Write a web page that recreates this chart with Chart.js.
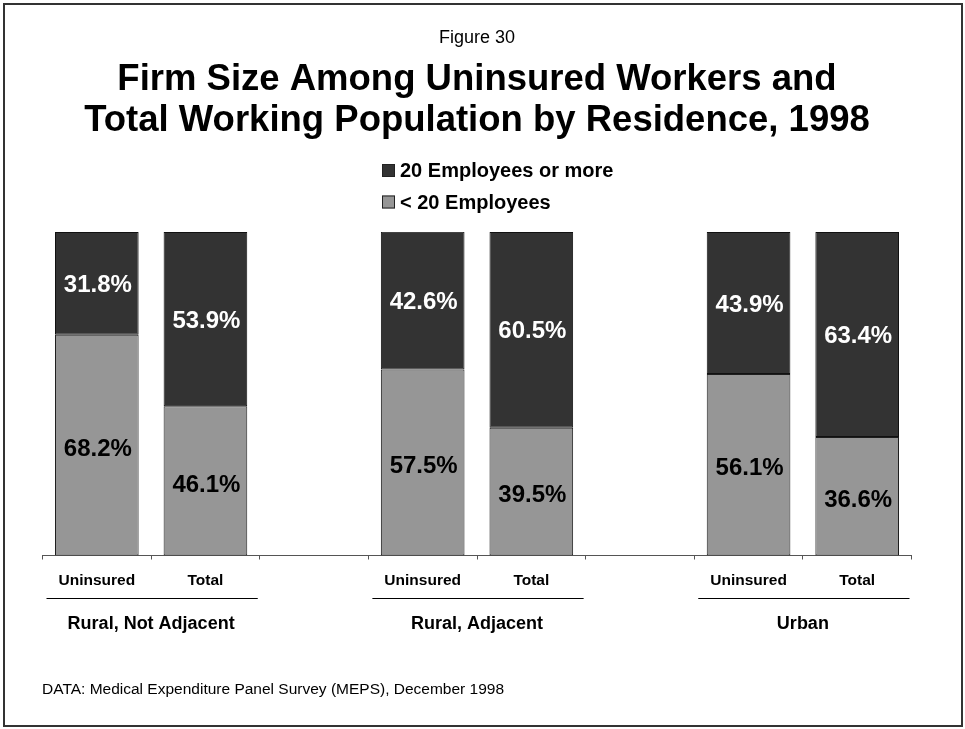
<!DOCTYPE html>
<html>
<head>
<meta charset="utf-8">
<script src="https://cdn.jsdelivr.net/npm/chart.js@4/dist/chart.umd.min.js"></script>
<style>
  html, body { margin: 0; padding: 0; background: #ffffff; }
  #wrap { width: 965px; height: 729px; position: relative; }
</style>
</head>
<body>
<div id="wrap"><canvas id="chart"></canvas></div>
<script>
// Residence groups and the two bars inside each group
const groupNames = ['Rural, Not Adjacent', 'Rural, Adjacent', 'Urban'];
// Category slots along the x axis; the blank slots separate the groups
const categories = ['Uninsured', 'Total', '', 'Uninsured', 'Total', '', 'Uninsured', 'Total'];
// Share of workers by firm size (%)
const smallFirms = [68.2, 46.1, null, 57.5, 39.5, null, 56.1, 36.6];
const largeFirms = [31.8, 53.9, null, 42.6, 60.5, null, 43.9, 63.4];
const seriesNames = ['< 20 Employees', '20 Employees or more'];
const figureLabel = 'Figure 30';
const titleLines = ['Firm Size Among Uninsured Workers and', 'Total Working Population by Residence, 1998'];
const sourceNote = 'DATA: Medical Expenditure Panel Survey (MEPS), December 1998';

const FONT = 'Arial, "Liberation Sans", Helvetica, sans-serif';
const LIGHT = '#969696';
const DARK = '#333333';

// Value labels centred in every bar segment
const segmentLabels = {
  id: 'segmentLabels',
  afterDatasetsDraw(chart) {
    const ctx = chart.ctx;
    ctx.save();
    ctx.font = 'bold 24px ' + FONT;
    ctx.textAlign = 'center';
    ctx.textBaseline = 'middle';
    chart.data.datasets.forEach((ds, di) => {
      const meta = chart.getDatasetMeta(di);
      meta.data.forEach((bar, i) => {
        const v = ds.data[i];
        if (v == null) return;
        const p = bar.getProps(['x', 'y', 'base'], true);
        ctx.fillStyle = ds.labelColor;
        ctx.fillText(v.toFixed(1) + '%', p.x + 1, (p.y + p.base) / 2 + ds.labelShift);
      });
    });
    ctx.restore();
  }
};

// Stacked legend block under the title (top series listed first)
const blockLegend = {
  id: 'blockLegend',
  afterDraw(chart) {
    const ctx = chart.ctx;
    const items = chart.data.datasets.slice().reverse();
    const x0 = 382, rows = [170.5, 202], box = 13;
    ctx.save();
    ctx.font = 'bold 20px ' + FONT;
    ctx.textAlign = 'left';
    ctx.textBaseline = 'middle';
    items.forEach((ds, k) => {
      const y = rows[k];
      ctx.fillStyle = ds.backgroundColor;
      ctx.fillRect(x0, y - box / 2, box, box);
      ctx.lineWidth = 1;
      ctx.strokeStyle = '#222222';
      ctx.strokeRect(x0 + 0.5, y - box / 2 + 0.5, box - 1, box - 1);
      ctx.fillStyle = '#000000';
      ctx.fillText(ds.label, x0 + box + 5, y + 1);
    });
    ctx.restore();
  }
};

// Group captions with rules under the pairs of bars, source note and frame
const groupCaptions = {
  id: 'groupCaptions',
  afterDraw(chart) {
    const ctx = chart.ctx;
    const xs = chart.scales.x;
    const half = (xs.getPixelForValue(1) - xs.getPixelForValue(0)) / 2;
    ctx.save();
    groupNames.forEach((name, g) => {
      const left = xs.getPixelForValue(g * 3) - half;
      const right = xs.getPixelForValue(g * 3 + 1) + half;
      ctx.strokeStyle = '#000000';
      ctx.lineWidth = 1;
      ctx.beginPath();
      ctx.moveTo(left + 4, 598.5);
      ctx.lineTo(right - 2, 598.5);
      ctx.stroke();
      ctx.fillStyle = '#000000';
      ctx.font = 'bold 18px ' + FONT;
      ctx.textAlign = 'center';
      ctx.textBaseline = 'middle';
      ctx.fillText(name, (left + right) / 2, 624);
    });
    ctx.font = '15.5px ' + FONT;
    ctx.textAlign = 'left';
    ctx.textBaseline = 'middle';
    ctx.fillText(sourceNote, 42, 690);
    ctx.strokeStyle = '#333333';
    ctx.lineWidth = 2;
    ctx.strokeRect(4, 4, 958, 722);
    ctx.restore();
  }
};

const chart = new Chart(document.getElementById('chart'), {
  type: 'bar',
  data: {
    labels: categories,
    datasets: [
      {
        label: seriesNames[0],
        data: smallFirms,
        backgroundColor: LIGHT,
        borderColor: '#1e1e1e',
        borderWidth: 1,
        borderSkipped: false,
        labelColor: '#000000',
        labelShift: 4
      },
      {
        label: seriesNames[1],
        data: largeFirms,
        backgroundColor: DARK,
        borderColor: '#111111',
        borderWidth: 1,
        borderSkipped: false,
        labelColor: '#ffffff',
        labelShift: 2
      }
    ]
  },
  options: {
    responsive: true,
    maintainAspectRatio: false,
    animation: false,
    datasets: { bar: { barPercentage: 0.77, categoryPercentage: 1 } },
    layout: { padding: { left: 42.5, right: 53.5, top: 0, bottom: 133.5 } },
    plugins: {
      legend: { display: false },
      tooltip: { enabled: false },
      title: {
        display: true,
        text: figureLabel,
        color: '#000000',
        font: { family: FONT, size: 18, weight: 'normal', lineHeight: 1.2 },
        padding: { top: 27, bottom: 0 }
      },
      subtitle: {
        display: true,
        text: titleLines,
        color: '#000000',
        font: { family: FONT, size: 36.5, weight: 'bold', lineHeight: 41 / 36.5 },
        padding: { top: 11, bottom: 90.4 }
      }
    },
    scales: {
      x: {
        stacked: true,
        afterFit(scale) { scale.height = 40; },
        grid: {
          display: true,
          drawOnChartArea: false,
          drawTicks: true,
          tickLength: 4,
          color: '#555555',
          offset: true
        },
        border: { display: true, color: '#555555', width: 1 },
        ticks: {
          color: '#000000',
          padding: 12,
          autoSkip: false,
          maxRotation: 0,
          font: { family: FONT, size: 15.5, weight: 'bold' }
        }
      },
      y: {
        stacked: true,
        display: false,
        min: 0,
        max: 100
      }
    }
  },
  plugins: [segmentLabels, blockLegend, groupCaptions]
});
</script>
</body>
</html>
